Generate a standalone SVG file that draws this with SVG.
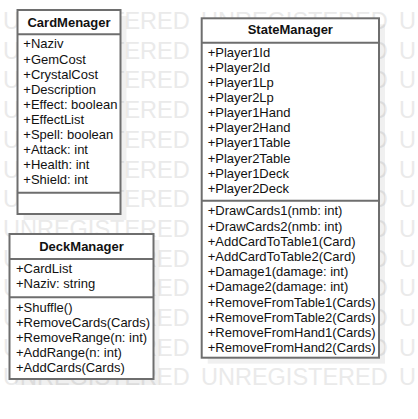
<svg xmlns="http://www.w3.org/2000/svg" width="418" height="419" viewBox="0 0 418 419">
<style>
.wm{font-family:"Liberation Sans",Arial,sans-serif;font-size:23.5px;fill:#eaeaea}
.box{fill:#ffffff;stroke:#6e6e6e;stroke-width:2}
.sep{stroke:#6e6e6e;stroke-width:2}
.shadow{fill:#000000;fill-opacity:0.06}
.title{font-family:"Liberation Sans",Arial,sans-serif;font-size:13px;font-weight:bold;fill:#111;text-anchor:middle}
.t{font-family:"Liberation Sans",Arial,sans-serif;font-size:13px;fill:#111}
</style>
<rect width="418" height="419" fill="#ffffff"/>
<g id="watermark">
<text class="wm" y="29"><tspan x="3">UNREGISTERED</tspan><tspan x="201">UNREGISTERED</tspan><tspan x="399">U</tspan></text>
<text class="wm" y="58.7"><tspan x="3">UNREGISTERED</tspan><tspan x="201">UNREGISTERED</tspan><tspan x="399">U</tspan></text>
<text class="wm" y="88.4"><tspan x="3">UNREGISTERED</tspan><tspan x="201">UNREGISTERED</tspan><tspan x="399">U</tspan></text>
<text class="wm" y="118.1"><tspan x="3">UNREGISTERED</tspan><tspan x="201">UNREGISTERED</tspan><tspan x="399">U</tspan></text>
<text class="wm" y="147.8"><tspan x="3">UNREGISTERED</tspan><tspan x="201">UNREGISTERED</tspan><tspan x="399">U</tspan></text>
<text class="wm" y="177.5"><tspan x="3">UNREGISTERED</tspan><tspan x="201">UNREGISTERED</tspan><tspan x="399">U</tspan></text>
<text class="wm" y="207.2"><tspan x="3">UNREGISTERED</tspan><tspan x="201">UNREGISTERED</tspan><tspan x="399">U</tspan></text>
<text class="wm" y="236.9"><tspan x="3">UNREGISTERED</tspan><tspan x="201">UNREGISTERED</tspan><tspan x="399">U</tspan></text>
<text class="wm" y="266.6"><tspan x="3">UNREGISTERED</tspan><tspan x="201">UNREGISTERED</tspan><tspan x="399">U</tspan></text>
<text class="wm" y="296.3"><tspan x="3">UNREGISTERED</tspan><tspan x="201">UNREGISTERED</tspan><tspan x="399">U</tspan></text>
<text class="wm" y="326"><tspan x="3">UNREGISTERED</tspan><tspan x="201">UNREGISTERED</tspan><tspan x="399">U</tspan></text>
<text class="wm" y="355.7"><tspan x="3">UNREGISTERED</tspan><tspan x="201">UNREGISTERED</tspan><tspan x="399">U</tspan></text>
<text class="wm" y="385.4"><tspan x="3">UNREGISTERED</tspan><tspan x="201">UNREGISTERED</tspan><tspan x="399">U</tspan></text>
</g>
<g id="CardMenager">
<rect class="shadow" x="23.5" y="16" width="103" height="204"/>
<rect class="box" x="17.5" y="10" width="103" height="204"/>
<line class="sep" x1="17.5" y1="34.3" x2="120.5" y2="34.3"/>
<line class="sep" x1="17.5" y1="192.7" x2="120.5" y2="192.7"/>
<text class="title" x="69" y="27">CardMenager</text>
<text class="t" x="23.3" y="48.4">+Naziv</text>
<text class="t" x="23.3" y="63.5">+GemCost</text>
<text class="t" x="23.3" y="78.6">+CrystalCost</text>
<text class="t" x="23.3" y="93.7">+Description</text>
<text class="t" x="23.3" y="108.8">+Effect: boolean</text>
<text class="t" x="23.3" y="123.9">+EffectList</text>
<text class="t" x="23.3" y="139">+Spell: boolean</text>
<text class="t" x="23.3" y="154.1">+Attack: int</text>
<text class="t" x="23.3" y="169.2">+Health: int</text>
<text class="t" x="23.3" y="184.3">+Shield: int</text>
</g>
<g id="DeckManager">
<rect class="shadow" x="15.5" y="240" width="144" height="145"/>
<rect class="box" x="9.5" y="234" width="144" height="145"/>
<line class="sep" x1="9.5" y1="259" x2="153.5" y2="259"/>
<line class="sep" x1="9.5" y1="297.3" x2="153.5" y2="297.3"/>
<text class="title" x="81.5" y="250.7">DeckManager</text>
<text class="t" x="16" y="273.3">+CardList</text>
<text class="t" x="16" y="288.3">+Naziv: string</text>
<text class="t" x="16" y="311.7">+Shuffle()</text>
<text class="t" x="16" y="326.7">+RemoveCards(Cards)</text>
<text class="t" x="16" y="341.7">+RemoveRange(n: int)</text>
<text class="t" x="16" y="356.7">+AddRange(n: int)</text>
<text class="t" x="16" y="371.7">+AddCards(Cards)</text>
</g>
<g id="StateManager">
<rect class="shadow" x="207.7" y="24.3" width="177.3" height="339.4"/>
<rect class="box" x="201.7" y="18.3" width="177.3" height="339.4"/>
<line class="sep" x1="201.7" y1="42.7" x2="379" y2="42.7"/>
<line class="sep" x1="201.7" y1="200.7" x2="379" y2="200.7"/>
<text class="title" x="290.3" y="34.3">StateManager</text>
<text class="t" x="207.7" y="56.8">+Player1Id</text>
<text class="t" x="207.7" y="71.9">+Player2Id</text>
<text class="t" x="207.7" y="87">+Player1Lp</text>
<text class="t" x="207.7" y="102.1">+Player2Lp</text>
<text class="t" x="207.7" y="117.2">+Player1Hand</text>
<text class="t" x="207.7" y="132.3">+Player2Hand</text>
<text class="t" x="207.7" y="147.4">+Player1Table</text>
<text class="t" x="207.7" y="162.5">+Player2Table</text>
<text class="t" x="207.7" y="177.6">+Player1Deck</text>
<text class="t" x="207.7" y="192.7">+Player2Deck</text>
<text class="t" x="207.7" y="215.3">+DrawCards1(nmb: int)</text>
<text class="t" x="207.7" y="230.5">+DrawCards2(nmb: int)</text>
<text class="t" x="207.7" y="245.7">+AddCardToTable1(Card)</text>
<text class="t" x="207.7" y="260.9">+AddCardToTable2(Card)</text>
<text class="t" x="207.7" y="276.1">+Damage1(damage: int)</text>
<text class="t" x="207.7" y="291.3">+Damage2(damage: int)</text>
<text class="t" x="207.7" y="306.5">+RemoveFromTable1(Cards)</text>
<text class="t" x="207.7" y="321.7">+RemoveFromTable2(Cards)</text>
<text class="t" x="207.7" y="336.9">+RemoveFromHand1(Cards)</text>
<text class="t" x="207.7" y="352.1">+RemoveFromHand2(Cards)</text>
</g>
<g id="connectors"></g>
</svg>
